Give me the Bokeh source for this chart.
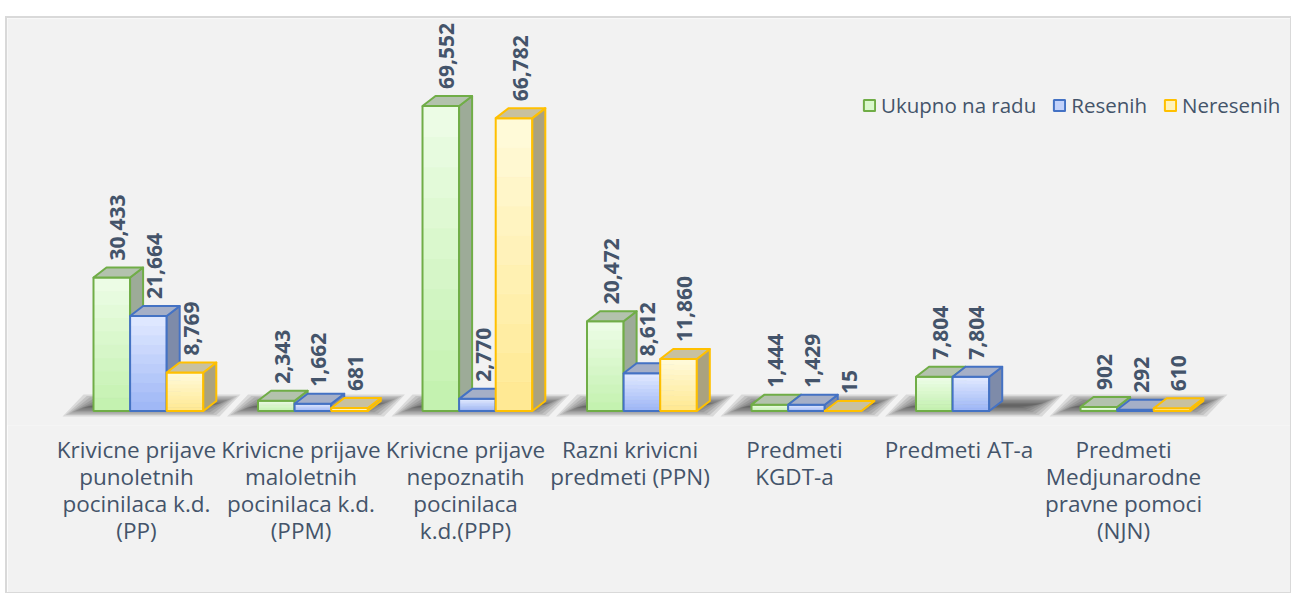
import numpy as np
from bokeh.plotting import figure
from bokeh.models import Range1d, FixedTicker, Legend, LegendItem
from bokeh.embed import file_html
from bokeh.resources import INLINE
from bokeh.core.properties import value

# ---------------- data ----------------
categories = [
    "Krivicne prijave\npunoletnih\npocinilaca k.d.\n(PP)",
    "Krivicne prijave\nmaloletnih\npocinilaca k.d.\n(PPM)",
    "Krivicne prijave\nnepoznatih\npocinilaca\nk.d.(PPP)",
    "Razni krivicni\npredmeti (PPN)",
    "Predmeti\nKGDT-a",
    "Predmeti AT-a",
    "Predmeti\nMedjunarodne\npravne pomoci\n(NJN)",
]
series_names = ["Ukupno na radu", "Resenih", "Neresenih"]
ukupno = [30433, 2343, 69552, 20472, 1444, 7804, 902]
resenih = [21664, 1662, 2770, 8612, 1429, 7804, 292]
neresenih = [8769, 681, 66782, 11860, 15, None, 610]
series_values = [ukupno, resenih, neresenih]

# ---------------- style ----------------
FRONT_TOP = ["#EEFDE8", "#E2EAFF", "#FFFBDC"]
FRONT_BOT = ["#C2F1AD", "#9CB5F6", "#FFE890"]
TOP_FACE = ["#B3C2AD", "#A5AFC7", "#C8C1A0"]
SIDE_FACE = ["#9DAB98", "#7E8BA9", "#AAA27F"]
OUTLINE = ["#70AD47", "#4472C4", "#FFC000"]
TEXT_COL = "#44546A"
BG = "#F2F2F2"

W, H = 1283, 574
FRAME_H = 407
X0, X1 = -0.7842, 7.015
Y0, Y1 = -3307, 89510


def ux(px):
    return px * (X1 - X0) / W


def uy(px):
    return px * (Y1 - Y0) / FRAME_H


BAR_W = ux(36.6)
GROUP_OFF = ux(-43)
DX, DY = ux(13), uy(10)

p = figure(width=W, height=H, x_range=Range1d(X0, X1), y_range=Range1d(Y0, Y1),
           output_backend="svg", toolbar_location=None, y_axis_location=None,
           min_border_left=0, min_border_right=0, min_border_top=0, min_border_bottom=H - FRAME_H)
p.background_fill_color = BG
p.border_fill_color = BG
p.outline_line_color = None
p.grid.visible = False
p.styles = {"position": "relative", "top": "18px", "left": "7px",
            "outline": "2px solid #D9D9D9"}

# ---------------- floor shadows ----------------
n = len(categories)
for k in range(8):
    inx, iny = ux(3.2 * k), uy(1.4 * k)
    xs, ys = [], []
    for i in range(n):
        bl, br = i + ux(-74) + inx, i + ux(83) - inx
        sh = ux(21)
        yb, yt = uy(-5.5) + iny, uy(16.5) - iny
        xs.append([bl, br, br + sh, bl + sh])
        ys.append([yb, yb, yt, yt])
    p.patches(xs, ys, fill_color="black", fill_alpha=0.1, line_color=None)


def lerp(c1, c2, t):
    a = [int(c1[j:j + 2], 16) for j in (1, 3, 5)]
    b = [int(c2[j:j + 2], 16) for j in (1, 3, 5)]
    return "#%02x%02x%02x" % tuple(int(round(a[m] + (b[m] - a[m]) * t)) for m in range(3))


NS = 10
legend_items = []
for s, vals in enumerate(series_values):
    L, R, T, B, C = [], [], [], [], []
    ol, orr, ot = [], [], []
    sxs, sys_, txs, tys = [], [], [], []
    lx, ly, lt = [], [], []
    for i, v in enumerate(vals):
        if v is None:
            continue
        left = i + GROUP_OFF + s * BAR_W
        right = left + BAR_W
        for k in range(NS):
            L.append(left); R.append(right)
            B.append(v * k / NS); T.append(v * (k + 1) / NS)
            C.append(lerp(FRONT_BOT[s], FRONT_TOP[s], (k + 0.5) / NS))
        ol.append(left); orr.append(right); ot.append(v)
        sxs.append([right, right + DX, right + DX, right])
        sys_.append([0, DY, v + DY, v])
        txs.append([left, right, right + DX, left + DX])
        tys.append([v, v, v + DY, v + DY])
        lx.append(left + BAR_W / 2 + ux(6))
        ly.append(v + DY + uy(7))
        lt.append(f"{v:,}")
    gr = p.quad(left=L, right=R, top=T, bottom=B, fill_color=C, line_color=C, line_width=0.8)
    orr_r = p.quad(left=ol, right=orr, top=ot, bottom=[0] * len(ol), fill_color=None,
                   line_color=OUTLINE[s], line_width=2)
    p.patches(sxs, sys_, fill_color=SIDE_FACE[s], line_color=OUTLINE[s], line_width=2,
              line_join="round")
    p.patches(txs, tys, fill_color=TOP_FACE[s], line_color=OUTLINE[s], line_width=2,
              line_join="round")
    p.text(x=lx, y=ly, text=lt, angle=np.pi / 2, text_align="left", text_baseline="middle",
           text_font=value("Open Sans"), text_font_style="bold", text_font_size="21px",
           text_color=TEXT_COL)
    legend_items.append(LegendItem(label=series_names[s], renderers=[gr, orr_r], index=5))

legend = Legend(items=legend_items, orientation="horizontal", location=(855, 306),
                glyph_width=14, glyph_height=14, label_text_font="Open Sans",
                label_text_font_size="20.5px", label_text_color=TEXT_COL,
                background_fill_alpha=0, border_line_color=None, padding=0, margin=0,
                spacing=16, label_standoff=5)
p.add_layout(legend)

ax = p.xaxis[0]
ax.ticker = FixedTicker(ticks=list(range(n)))
ax.major_label_overrides = {i: c for i, c in enumerate(categories)}
ax.major_label_text_font = "Open Sans"
ax.major_label_text_font_size = "22.5px"
ax.major_label_text_color = TEXT_COL
ax.major_label_text_line_height = 0.88
ax.axis_line_color = None
ax.major_tick_line_color = None
ax.minor_tick_line_color = None
ax.major_label_standoff = 2

open("out.html", "w").write(file_html(p, INLINE))
